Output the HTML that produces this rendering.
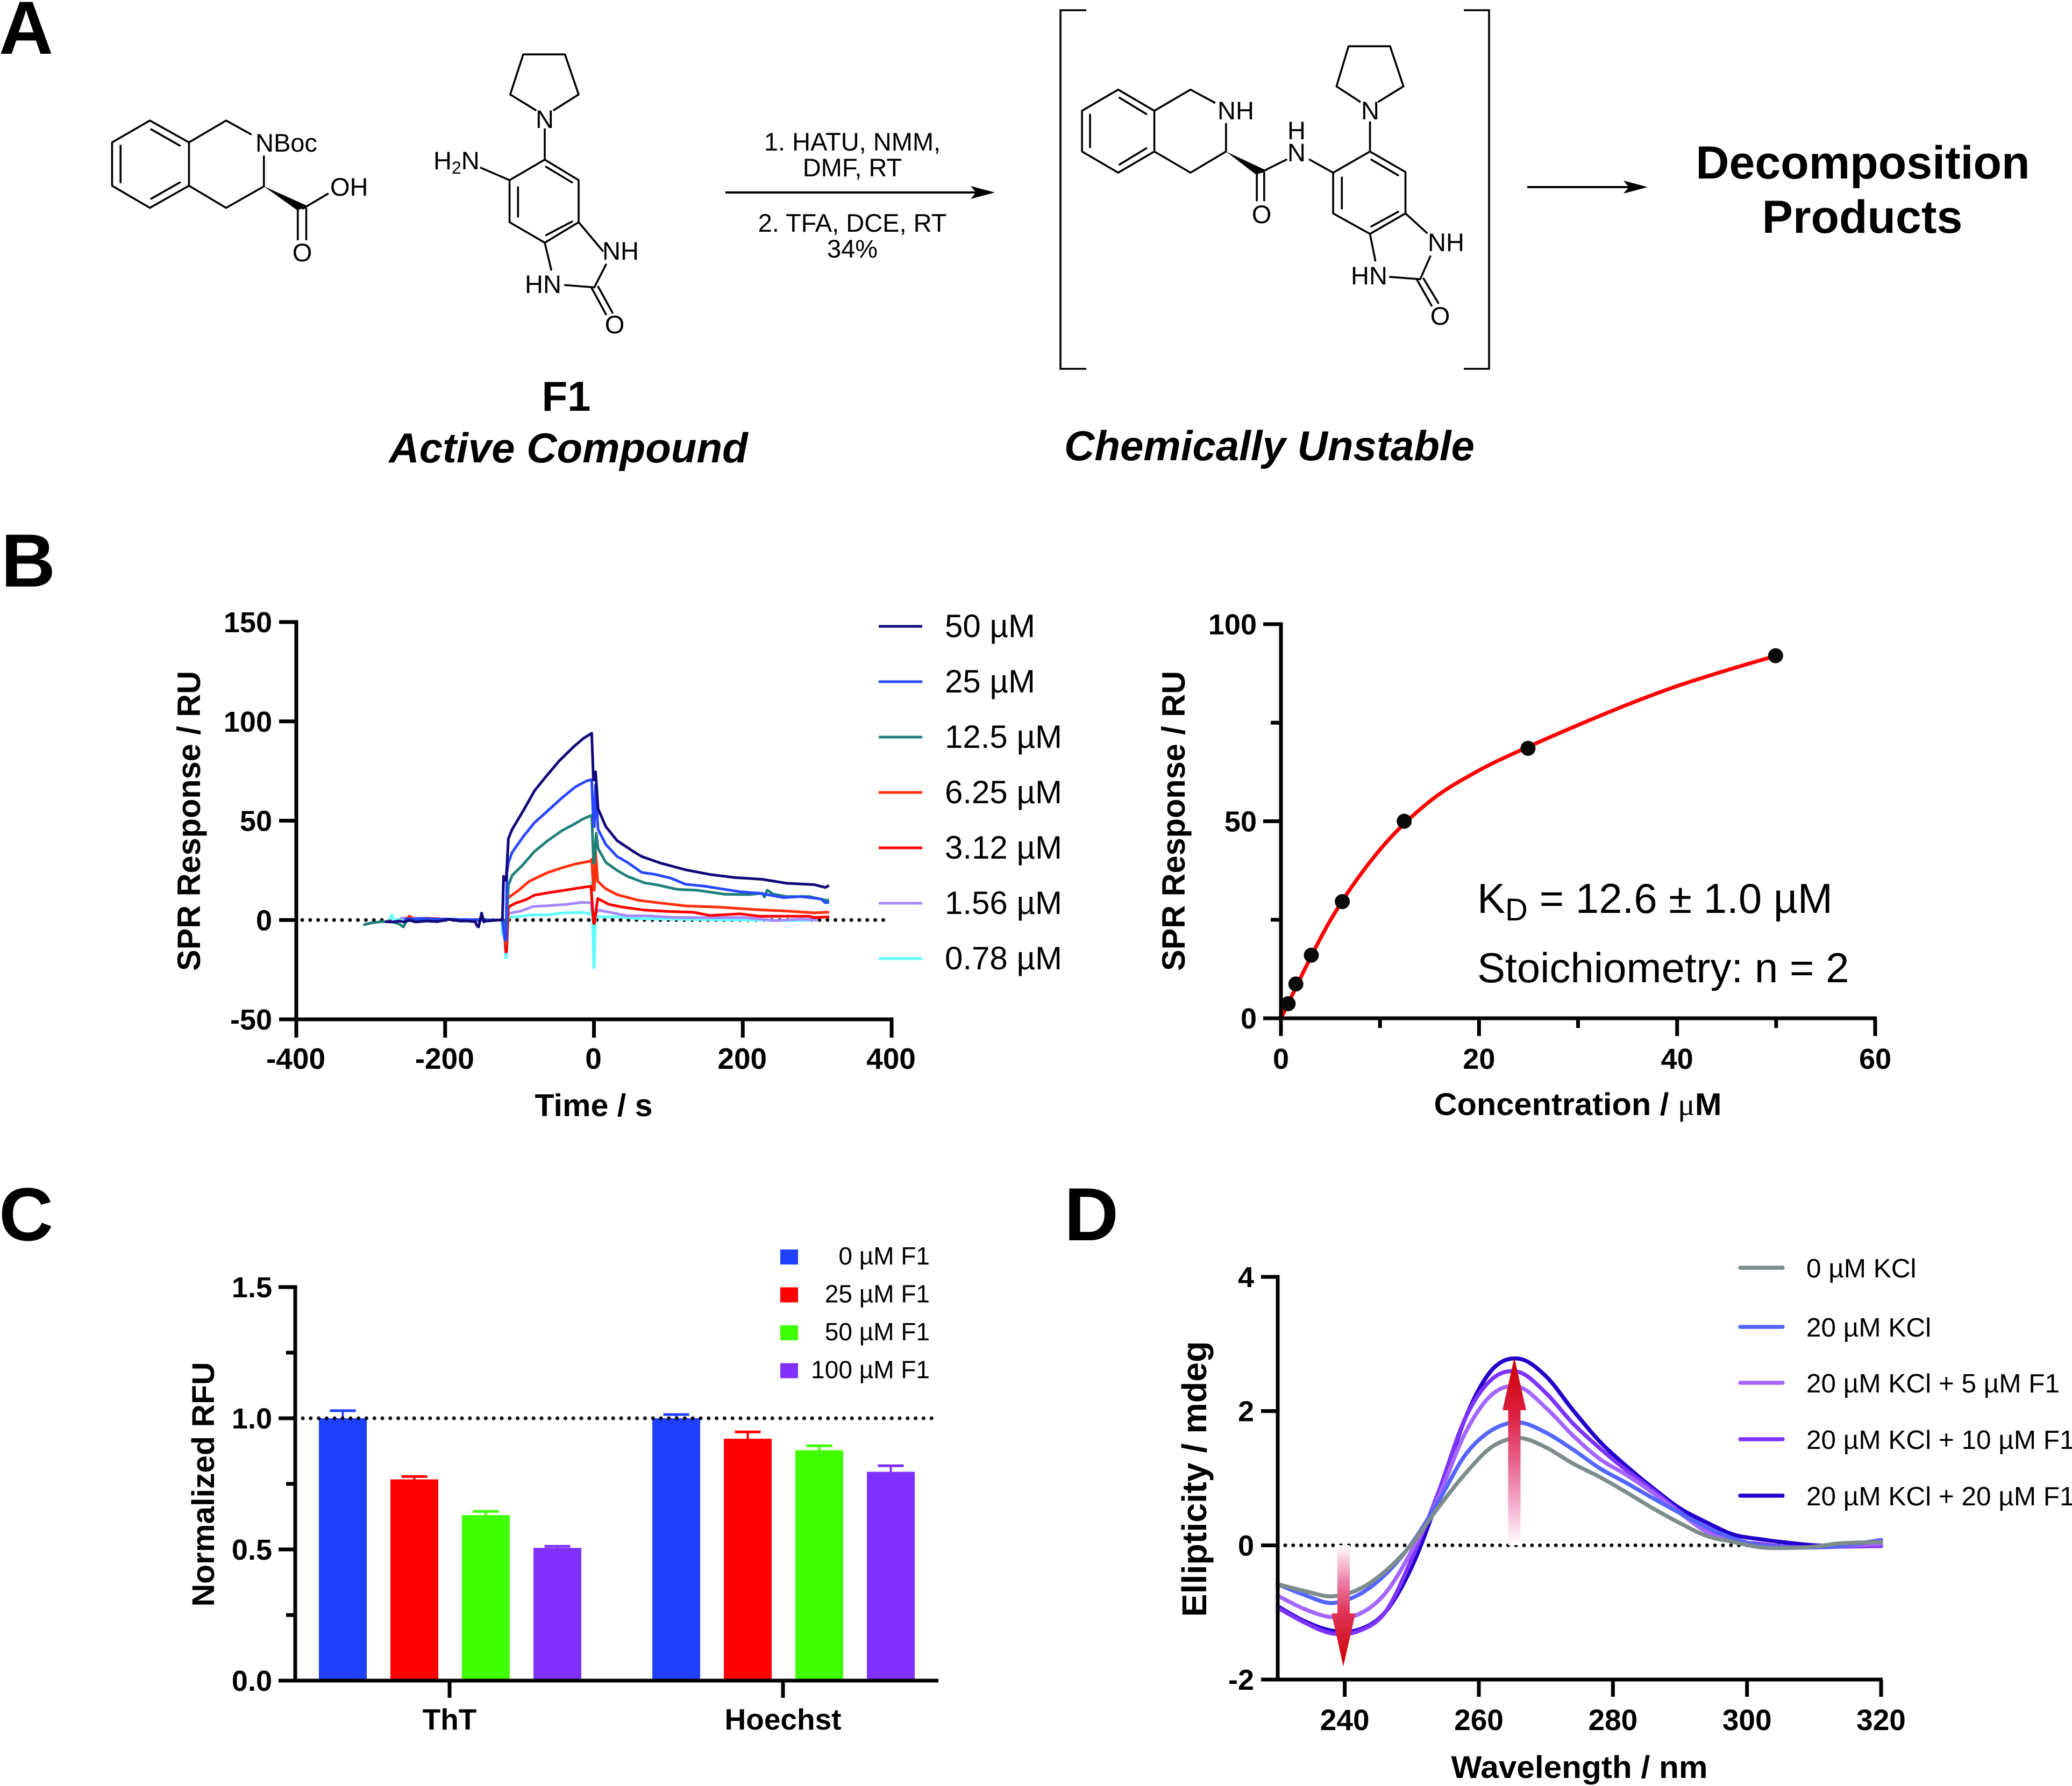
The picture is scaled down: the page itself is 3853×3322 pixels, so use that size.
<!DOCTYPE html>
<html lang="en">
<head>
<meta charset="utf-8">
<title>F1 compound: synthesis, SPR, fluorescence and CD data</title>
<style>
html,body{margin:0;padding:0;background:#fff;}
svg{display:block;}
text{font-family:"Liberation Sans",sans-serif;fill:#000;}
.bond line,.bond polyline{stroke:#000;stroke-width:3.6;fill:none;vector-effect:non-scaling-stroke;stroke-linecap:round;stroke-linejoin:round;}
.atom{font-size:47px;}
.mid{text-anchor:middle;}
.ttl{font-size:58px;font-weight:700;text-anchor:middle;}
.ttl60{font-size:60px;}
.panel{font-size:140px;font-weight:700;}
</style>
</head>
<body>
<svg id="fig" xmlns="http://www.w3.org/2000/svg" width="3853" height="3322" viewBox="0 0 3853 3322">
<defs>
<linearGradient id="gradUp" gradientUnits="userSpaceOnUse" x1="0" y1="2525" x2="0" y2="2874">
<stop offset="0" stop-color="#cc0000"/><stop offset="0.3" stop-color="#dc2040"/><stop offset="0.55" stop-color="#e8608c"/><stop offset="0.8" stop-color="#f4b4d0"/><stop offset="1" stop-color="#ffffff"/>
</linearGradient>
<linearGradient id="gradDown" gradientUnits="userSpaceOnUse" x1="0" y1="3099" x2="0" y2="2874">
<stop offset="0" stop-color="#cc0000"/><stop offset="0.45" stop-color="#e03458"/><stop offset="0.7" stop-color="#ec80a8"/><stop offset="1" stop-color="#ffffff"/>
</linearGradient>
</defs>
<rect x="0" y="0" width="3853" height="3322" fill="#fff"/>

<!-- Panel letters -->
<text class="panel" x="-2" y="100">A</text>
<text class="panel" x="2" y="1091">B</text>
<text class="panel" x="-2" y="2307">C</text>
<text class="panel" x="1979" y="2307">D</text>

<!-- Panel A: starting acid -->
<g class="bond" transform="scale(1.2117,0.606)">
<polyline points="230,370 290,437 290,570 230,638 172,570 172,437 230,370"/>
<line x1="232" y1="397" x2="276" y2="447"/><line x1="185" y1="447" x2="185" y2="560"/><line x1="232" y1="610" x2="276" y2="560"/>
<polyline points="290,437 347,370 385,412"/>
<polyline points="405,480 405,572 347,638 290,570"/>
<polygon points="405,572 456,645 473,633" fill="#000"/>
<line x1="465" y1="640" x2="503" y2="595"/>
<line x1="457" y1="640" x2="457" y2="735"/><line x1="470" y1="640" x2="470" y2="735"/>
</g>
<text class="atom" x="475" y="282">NBoc</text>
<text class="atom" x="614" y="364">OH</text>
<text class="atom mid" x="562" y="486">O</text>

<!-- Panel A: F1 -->
<g class="bond" transform="scale(1.2117,0.606)">
<polyline points="822,338 783,290 803,167 867,167 888,290 850,338"/>
<line x1="836" y1="397" x2="836" y2="490"/>
<polyline points="836,490 888,553 888,682 836,745 782,682 782,553 836,490"/>
<line x1="838" y1="512" x2="878" y2="560"/><line x1="795" y1="575" x2="795" y2="665"/><line x1="878" y1="680" x2="838" y2="722"/>
<line x1="738" y1="515" x2="782" y2="553"/>
<line x1="888" y1="682" x2="925" y2="770"/>
<line x1="930" y1="812" x2="912" y2="882"/>
<line x1="836" y1="745" x2="846" y2="828"/>
<line x1="867" y1="875" x2="912" y2="882"/>
<line x1="908" y1="884" x2="930" y2="965"/><line x1="918" y1="880" x2="940" y2="960"/>
</g>
<text class="atom mid" x="1013" y="238">N</text>
<text class="atom" x="806" y="315">H<tspan font-size="32" dy="8">2</tspan><tspan dy="-8">N</tspan></text>
<text class="atom" x="1120" y="483">NH</text>
<text class="atom" x="976" y="545">HN</text>
<text class="atom mid" x="1143" y="620">O</text>
<text class="mid" x="1053" y="764" font-size="78" font-weight="700">F1</text>
<text class="mid" x="1057" y="860" font-size="78" font-weight="700" font-style="italic">Active Compound</text>

<!-- Panel A: reaction -->
<text class="atom mid" x="1585" y="280">1. HATU, NMM,</text>
<text class="atom mid" x="1585" y="328">DMF, RT</text>
<text class="atom mid" x="1585" y="431">2. TFA, DCE, RT</text>
<text class="atom mid" x="1585" y="479">34%</text>
<g>
<line x1="1349" y1="358" x2="1815" y2="358" stroke="#000" stroke-width="4"/>
<polygon points="1850,358 1805,346 1815,358 1805,370" fill="#000"/>
</g>

<!-- Panel A: intermediate -->
<g><polyline points="2020,19 1972,19 1972,686 2020,686" fill="none" stroke="#000" stroke-width="3.6"/></g>
<g><polyline points="2722,19 2769,19 2769,686 2722,686" fill="none" stroke="#000" stroke-width="3.6"/></g>
<g class="bond" transform="translate(1900,0) scale(1.2453,0.606)">
<polyline points="144,275 198,340 198,465 144,530 90,465 90,340 144,275"/>
<line x1="146" y1="300" x2="186" y2="350"/><line x1="102" y1="352" x2="102" y2="452"/><line x1="146" y1="505" x2="186" y2="455"/>
<polyline points="198,340 252,275 288,315"/>
<polyline points="305,380 305,465 252,530 198,465"/>
<polygon points="305,465 350,536 366,524" fill="#000"/>
<line x1="351" y1="530" x2="351" y2="615"/><line x1="362" y1="530" x2="362" y2="615"/>
<line x1="358" y1="528" x2="395" y2="490"/>
<line x1="430" y1="490" x2="465" y2="530"/>
<polyline points="520,465 573,528 573,655 520,718 465,655 465,530 520,465"/>
<line x1="522" y1="490" x2="562" y2="538"/><line x1="478" y1="545" x2="478" y2="640"/><line x1="562" y1="650" x2="522" y2="695"/>
<line x1="520" y1="465" x2="520" y2="375"/>
<polyline points="505,312 470,265 488,142 550,142 570,265 533,312"/>
<line x1="573" y1="655" x2="605" y2="715"/>
<line x1="610" y1="787" x2="595" y2="857"/>
<line x1="520" y1="718" x2="528" y2="800"/>
<line x1="550" y1="850" x2="595" y2="857"/>
<line x1="590" y1="858" x2="612" y2="938"/><line x1="600" y1="855" x2="622" y2="930"/>
</g>
<text class="atom" x="2264" y="222">NH</text>
<text class="atom mid" x="2346" y="415">O</text>
<text class="atom mid" x="2411" y="259">H</text>
<text class="atom mid" x="2411" y="300">N</text>
<text class="atom mid" x="2548" y="222">N</text>
<text class="atom" x="2655" y="467">NH</text>
<text class="atom" x="2512" y="529">HN</text>
<text class="atom mid" x="2678" y="604">O</text>
<text x="1979" y="856" font-size="78" font-weight="700" font-style="italic">Chemically Unstable</text>
<g>
<line x1="2840" y1="348" x2="3030" y2="348" stroke="#000" stroke-width="4"/>
<polygon points="3064,348 3019,336 3029,348 3019,360" fill="#000"/>
</g>
<text class="mid" x="3464" y="332" font-size="86" font-weight="700">Decomposition</text>
<text class="mid" x="3463" y="433" font-size="86" font-weight="700">Products</text>

<!-- Chart layers filled by script -->
<g id="chartB1"></g>
<text class="ttl ttl60" transform="translate(372,1527) rotate(-90)" textLength="558" lengthAdjust="spacingAndGlyphs">SPR Response / RU</text>
<text class="ttl" x="1104" y="2076" textLength="219" lengthAdjust="spacingAndGlyphs">Time / s</text>

<g id="chartB2"></g>
<text class="ttl ttl60" transform="translate(2203,1527) rotate(-90)" textLength="558" lengthAdjust="spacingAndGlyphs">SPR Response / RU</text>
<text class="ttl" x="2934" y="2074" textLength="535" lengthAdjust="spacingAndGlyphs">Concentration / <tspan font-family="Liberation Serif" font-weight="400">μ</tspan>M</text>
<text x="2747" y="1698" font-size="78">K<tspan font-size="58" dy="14">D</tspan><tspan dy="-14"> = 12.6 ± 1.0 µM</tspan></text>
<text x="2747" y="1827" font-size="78">Stoichiometry: n = 2</text>

<g id="chartC"></g>
<text class="ttl" transform="translate(398,2761) rotate(-90)" textLength="455" lengthAdjust="spacingAndGlyphs">Normalized RFU</text>

<g id="chartD"></g>
<text class="ttl" style="font-size:64px" transform="translate(2243,2751) rotate(-90)" textLength="513" lengthAdjust="spacingAndGlyphs">Ellipticity / mdeg</text>
<text class="ttl" x="2937" y="3307" textLength="477" lengthAdjust="spacingAndGlyphs">Wavelength / nm</text>
</svg>

<script>
/* ---------- Panel B left: SPR sensorgrams ---------- */
const sprXTicks = [-400, -200, 0, 200, 400];
const sprYTicks = [-50, 0, 50, 100, 150];
const sprLabels = ['50 µM', '25 µM', '12.5 µM', '6.25 µM', '3.12 µM', '1.56 µM', '0.78 µM'];
const sprColors = ['#12087a', '#2a48ff', '#1f8078', '#ff3010', '#ff0000', '#a688ff', '#60ffff'];

const t50 = [-281,-270,-262,-255,-248,-240,-225,-210,-195,-180,-170,-160,-157,-155,-153,-151,-148,-145,-135,-125,-123,-121.5,-120,-118,-115,-110,-95,-80,-65,-47,-28,-14,-3,-0.7,1,2.2,5.5,16,31,53,64,89,123,156,189,226,259,296,311,316];
const v50 = [-0.8,-1,-0.5,-1,0,-1,-0.5,-0.8,0.3,-0.5,-0.5,-0.8,-3,-3.5,0,3.5,-1,-0.5,-0.2,0,0,22,20,20,41,45.6,55,65,72,80,87,91.5,94,70.6,70.7,74.6,56,47,40,34.5,32,28.7,25.3,22.9,21.4,20.5,18.5,17.8,16.4,17.4];
const t25 = [-255,-240,-225,-210,-195,-180,-160,-145,-130,-123,-120,-118,-117,-115,-110,-95,-80,-65,-43,-25,-10,-3,-0.5,0.5,2,5.5,16,31,45,64,82,104,123,149,171,197,222,255,278,305,311,316];
const v25 = [0.5,0.5,0.8,0.3,0.5,0.2,0.2,0,0,0,-10,-10,24,29,34,42,49,54,61.5,67,70,70.7,47,47,68,45.6,38,32,29,24,23,21,18,17,15.7,14.2,13.5,11.3,11.8,10.6,8.7,8.9];
const t125 = [-310,-300,-285,-270,-262,-256,-252,-240,-225,-200,-170,-145,-125,-121,-118,-115,-110,-95,-80,-62,-43,-28,-14,-3,-0.5,0.5,3,5.5,16,31,45,68,86,112,138,175,208,226,229,233,241,259,289,311,316];
const v125 = [-2.5,-1.5,-0.8,-1,-2,-3.5,-0.5,0,0.5,0.3,0,0,0,0,-6,17.6,22.4,28,34.5,40,45,48,51,52.7,28.7,28.7,43.7,36,29,25,22,18.7,17.6,15.4,15,13,12.8,13.5,11.6,15,13,11.8,11.8,10,10];
const t625 = [-252,-248,-240,-225,-210,-195,-170,-145,-125,-121,-118,-116,-115,-102,-87,-62,-43,-25,-4,-3,-0.5,0.5,2,5,16,31,60,93,123,167,215,259,296,316];
const v625 = [0.5,2,0,1,0.5,0.3,0,0,0,0,-12,10,11.3,14.7,19.5,23.9,26.3,28.2,29.7,30.6,15,15,35,19.5,15.7,12.8,9.9,8.4,7.1,6.5,5.3,4.5,3.6,3.9];
const t312 = [-240,-225,-210,-195,-170,-145,-125,-121,-118.5,-117.5,-115,-106,-91,-80,-62,-39,-21,-4,-0.5,0.5,5,20,38,68,101,134,156,197,222,259,289,296,316];
const v312 = [0.3,0.8,0.6,0.3,0,0,0,0,-16,-16,6.5,8.4,10.3,12.5,13.7,15,16.1,17,-1.7,-1.7,10.8,7.9,6.5,5,4.3,3.9,2.3,3.1,1.9,1.9,1.9,1.2,1.6];
const t156 = [-260,-240,-220,-195,-170,-145,-125,-121,-118,-115,-98,-82,-62,-36,-17,-4,-0.5,0.5,5,20,45,71,104,134,204,244,278,300];
const v156 = [1,1,0.8,0.5,0.2,0,0,0,-8,3.3,4.5,6.8,7.2,7.9,8.9,8.7,1,1,5,4,2.1,2.1,1.4,1.2,1.2,-0.3,0.4,0];
const t078 = [-275,-272,-268,-250,-230,-200,-170,-150,-135,-124,-123,-121,-118.5,-117.5,-115,-98,-84,-62,-39,-14,-4,-3,-0.3,0.3,2,5.5,31,60,149,222,259,300];
const v078 = [0,2.5,0,1,0.5,0.5,0,0,0,0,-7,0,-19,-19,1.4,1.9,2.6,2.6,3.6,3.8,2.9,19,-24,-24,2,1.6,1.6,0.7,0.2,0,-0.3,0];

/* ---------- Panel B right: binding isotherm ---------- */
const bindXTicks = [0, 20, 40, 60];
const bindXMinor = [10, 30, 50];
const bindYTicks = [0, 50, 100];
const bindYMinor = [25, 75];
const bindConc = [0.78, 1.56, 3.12, 6.25, 12.5, 25, 50];
const bindResp = [3.7, 8.7, 16, 29.6, 50, 68.5, 92];
const fitConc = [0, 5, 10, 15, 20, 25, 30, 35, 40, 45, 50];
const fitResp = [0, 24.9, 42.8, 55, 62.9, 68.9, 74.4, 79.6, 84.3, 88.3, 92];

/* ---------- Panel C: normalized RFU bars ---------- */
const rfuYTicks = [0, 0.5, 1, 1.5];
const rfuYMinor = [0.25, 0.75, 1.25];
const rfuGroups = ['ThT', 'Hoechst'];
const rfuSeries = ['0 µM F1', '25 µM F1', '50 µM F1', '100 µM F1'];
const rfuColors = ['#2040ff', '#ff0000', '#40ff00', '#8030ff'];
const rfuTht = [1.0, 0.767, 0.631, 0.506];
const rfuHoechst = [1.0, 0.922, 0.878, 0.796];
const errTht = [0.029, 0.011, 0.014, 0.006];
const errHoechst = [0.014, 0.026, 0.017, 0.023];

/* ---------- Panel D: CD spectra ---------- */
const cdXTicks = [240, 260, 280, 300, 320];
const cdYTicks = [-2, 0, 2, 4];
const cdWave = [230,234,238,242,246,250,254,258,262,266,270,274,278,282,286,290,294,298,302,306,310,314,320];
const cd0KCl = [-0.58,-0.68,-0.76,-0.66,-0.39,0.02,0.57,1.07,1.47,1.6,1.46,1.22,1.02,0.79,0.55,0.33,0.14,0.05,-0.03,-0.04,-0.02,0.03,0.05];
const cd20KCl = [-0.58,-0.74,-0.86,-0.74,-0.44,0.03,0.66,1.35,1.72,1.83,1.68,1.43,1.15,0.93,0.7,0.48,0.27,0.1,0,-0.03,-0.03,-0.01,0.08];
const cd5F1 = [-0.75,-0.95,-1.07,-1.03,-0.72,-0.08,0.72,1.68,2.25,2.36,2.05,1.64,1.29,1.05,0.78,0.48,0.2,0.05,0,-0.03,-0.03,-0.01,0.02];
const cd10F1 = [-0.93,-1.15,-1.31,-1.28,-1,-0.2,0.8,1.9,2.48,2.58,2.27,1.82,1.45,1.12,0.82,0.5,0.22,0.07,0.02,-0.02,-0.03,-0.02,-0.01];
const cd20F1 = [-0.91,-1.13,-1.27,-1.26,-1,-0.32,0.72,1.9,2.62,2.78,2.52,2.02,1.55,1.18,0.85,0.55,0.34,0.16,0.09,0.04,0,-0.01,-0.01];
const cdLabels = ['0 µM KCl', '20 µM KCl', '20 µM KCl + 5 µM F1', '20 µM KCl + 10 µM F1', '20 µM KCl + 20 µM F1'];
const cdColors = ['#7f8c8c', '#5566ff', '#a566ff', '#7f33ff', '#2200cc'];

/* ---------- helpers ---------- */
const NS = 'http://www.w3.org/2000/svg';
function make(tag, attrs, parent) {
  const e = document.createElementNS(NS, tag);
  for (const k in attrs) e.setAttribute(k, attrs[k]);
  parent.appendChild(e);
  return e;
}
function scale(d0, d1, r0, r1) { return v => r0 + (v - d0) * (r1 - r0) / (d1 - d0); }
function seg(parent, x1, y1, x2, y2, w, color) {
  return make('line', {x1: x1, y1: y1, x2: x2, y2: y2, stroke: color || '#000', 'stroke-width': w, 'stroke-linecap': 'butt'}, parent);
}
function label(parent, x, y, str, size, weight, anchor) {
  const e = make('text', {x: x, y: y, 'font-size': size, 'font-weight': weight, 'text-anchor': anchor}, parent);
  e.textContent = str;
  return e;
}
function dotted(parent, x1, y, x2) {
  return make('line', {x1: x1, y1: y, x2: x2, y2: y, stroke: '#000', 'stroke-width': 7, 'stroke-linecap': 'round', 'stroke-dasharray': '0 14.8'}, parent);
}
function linePath(xs, ys, fx, fy) {
  return xs.map((v, i) => (i ? 'L' : 'M') + fx(v).toFixed(1) + ' ' + fy(ys[i]).toFixed(1)).join(' ');
}
function smoothPath(xs, ys, fx, fy) {
  const p = xs.map((v, i) => [fx(v), fy(ys[i])]);
  let d = 'M' + p[0][0].toFixed(1) + ' ' + p[0][1].toFixed(1);
  for (let i = 0; i < p.length - 1; i++) {
    const a = p[Math.max(i - 1, 0)], b = p[i], c = p[i + 1], e = p[Math.min(i + 2, p.length - 1)];
    d += ' C' + (b[0] + (c[0] - a[0]) / 6).toFixed(1) + ' ' + (b[1] + (c[1] - a[1]) / 6).toFixed(1) + ' ' +
         (c[0] - (e[0] - b[0]) / 6).toFixed(1) + ' ' + (c[1] - (e[1] - b[1]) / 6).toFixed(1) + ' ' +
         c[0].toFixed(1) + ' ' + c[1].toFixed(1);
  }
  return d;
}

/* ---------- draw Panel B left ---------- */
(function () {
  const g = document.getElementById('chartB1');
  const x = scale(-400, 400, 551, 1658);
  const y = scale(-50, 150, 1896, 1157);

  const zero = dotted(g, 562, y(0), 1650);
  
  

  const ts = [t50, t25, t125, t625, t312, t156, t078];
  const vs = [v50, v25, v125, v625, v312, v156, v078];
  for (let i = 6; i >= 0; i--) {
    const p = make('path', {d: linePath(ts[i], vs[i], x, y), fill: 'none', stroke: sprColors[i], 'stroke-width': 5, 'stroke-linejoin': 'round'}, g);
    
    
  }

  const ax = seg(g, x(-400) - 3.5, y(-50), x(400) + 3.5, y(-50), 7);
  
  
  const ay = seg(g, x(-400), y(150) - 3.5, x(-400), y(-50) + 3.5, 7);
  
  

  sprXTicks.forEach(v => {
    const t = seg(g, x(v), y(-50), x(v), y(-50) + 34, 7);
    
    
    const l = label(g, x(v) - 1, 1988, String(v), 55, 700, 'middle');
    
    
  });
  sprYTicks.forEach(v => {
    const t = seg(g, x(-400) - 32, y(v), x(-400), y(v), 7);
    
    
    const l = label(g, 506, y(v) + 19, String(v), 54, 700, 'end');
    
    
  });

  sprLabels.forEach((s, i) => {
    const ly = 1165 + i * 103;
    const m = seg(g, 1634, ly, 1715, ly, 5, sprColors[i]);
    
    
    const l = label(g, 1757, ly + 20, s, 60, 400, 'start');
    
    
  });
})();

/* ---------- draw Panel B right ---------- */
(function () {
  const g = document.getElementById('chartB2');
  const x = scale(0, 60, 2382, 3487);
  const y = scale(0, 100, 1894, 1161);

  const fit = make('path', {d: smoothPath(fitConc, fitResp, x, y), fill: 'none', stroke: '#ff0000', 'stroke-width': 7}, g);
  
  

  const ax = seg(g, x(0) - 33, y(0), x(60) + 3, y(0), 7);
  
  
  const ay = seg(g, x(0), y(100) - 3.5, x(0), y(0) + 33, 7);
  
  

  bindXTicks.forEach(v => {
    const t = seg(g, x(v), y(0), x(v), y(0) + 33, 7);
    
    
    const l = label(g, x(v), 1988, String(v), 54, 700, 'middle');
    
    
  });
  bindXMinor.forEach(v => {
    const t = seg(g, x(v), y(0), x(v), y(0) + 18, 7);
    
    
  });
  bindYTicks.forEach(v => {
    const t = seg(g, x(0) - 33, y(v), x(0), y(v), 7);
    
    
    const l = label(g, 2337, y(v) + 19, String(v), 54, 700, 'end');
    
    
  });
  bindYMinor.forEach(v => {
    const t = seg(g, x(0) - 19, y(v), x(0), y(v), 7);
    
    
  });

  bindConc.forEach((c, i) => {
    const d = make('circle', {cx: x(c) - 1, cy: y(bindResp[i]), r: 14, fill: '#0a0a0a'}, g);
    
    
  });
})();

/* ---------- draw Panel C ---------- */
(function () {
  const g = document.getElementById('chartC');
  const y = scale(0, 1.5, 3126, 2394);
  const groupX = i => 837 + i * 620;
  const barX = (gi, si) => groupX(gi) + (si - 1.5) * 133;
  const vals = [rfuTht, rfuHoechst];
  const errs = [errTht, errHoechst];

  vals.forEach((arr, gi) => {
    arr.forEach((v, si) => {
      const cx = barX(gi, si);
      const top = y(v + errs[gi][si]);
      const stem = seg(g, cx, y(v), cx, top, 4, rfuColors[si]);
      
      
      const cap = seg(g, cx - 24, top, cx + 24, top, 5, rfuColors[si]);
      
      
      const b = make('rect', {x: cx - 44.5, y: y(v), width: 89, height: y(0) - y(v), fill: rfuColors[si]}, g);
      
      
    });
  });

  const ref = dotted(g, 563, y(1), 1742);
  
  

  const ax = seg(g, 518, y(0), 1745, y(0), 7);
  
  
  const ay = seg(g, 549, y(1.5) - 3.5, 549, y(0), 7);
  
  

  rfuYTicks.forEach(v => {
    const t = seg(g, 518, y(v), 549, y(v), 7);
    
    
    const l = label(g, 506, y(v) + 19, v.toFixed(1), 54, 700, 'end');
    
    
  });
  rfuYMinor.forEach(v => {
    const t = seg(g, 532, y(v), 549, y(v), 7);
    
    
  });
  rfuGroups.forEach((s, i) => {
    const t = seg(g, groupX(i) - 1, y(0), groupX(i) - 1, y(0) + 32, 7);
    
    
    const l = label(g, groupX(i) - 1, 3217, s, 55, 700, 'middle');
    
    
  });
  rfuSeries.forEach((s, i) => {
    const ly = 2338 + i * 70.5;
    const r = make('rect', {x: 1451, y: ly - 14, width: 33, height: 28, fill: rfuColors[i]}, g);
    
    
    const l = label(g, 1729, ly + 14, s, 46, 400, 'end');
    
    
  });
})();

/* ---------- draw Panel D ---------- */
(function () {
  const g = document.getElementById('chartD');
  const x = scale(230, 320, 2376, 3498);
  const y = scale(-2, 4, 3124, 2375);

  const zero = dotted(g, 2390, y(0), 3490);
  
  

  const series = [cd0KCl, cd20KCl, cd5F1, cd10F1, cd20F1];
  for (let i = 4; i >= 0; i--) {
    const p = make('path', {d: smoothPath(cdWave, series[i], x, y), fill: 'none', stroke: cdColors[i], 'stroke-width': 7.5, 'stroke-linecap': 'round', 'stroke-linejoin': 'round'}, g);
    
    
  }

  const up = make('polygon', {points: '2804.5,2874 2804.5,2623 2794,2623 2816,2525 2838,2623 2827.5,2623 2827.5,2874', fill: 'url(#gradUp)'}, g);
  
  
  const down = make('polygon', {points: '2487,2874 2510,2874 2510,3001 2520.5,3001 2498,3099.5 2476,3001 2487,3001', fill: 'url(#gradDown)'}, g);
  
  

  const ax = seg(g, 2345, y(-2), 3501, y(-2), 7);
  
  
  const ay = seg(g, 2376, y(4) - 3.5, 2376, y(-2), 7);
  
  

  cdXTicks.forEach(v => {
    const t = seg(g, x(v), y(-2), x(v), y(-2) + 32, 7);
    
    
    const l = label(g, x(v), 3218, String(v), 55, 700, 'middle');
    
    
  });
  cdYTicks.forEach(v => {
    const t = seg(g, 2345, y(v), 2376, y(v), 7);
    
    
    const l = label(g, 2332, y(v) + 19, String(v), 54, 700, 'end');
    
    
  });

  const legendRows = [2358, 2468, 2572, 2677, 2782];
  cdLabels.forEach((s, i) => {
    const m = make('line', {x1: 3236, y1: legendRows[i], x2: 3315, y2: legendRows[i], stroke: cdColors[i], 'stroke-width': 7.5, 'stroke-linecap': 'round'}, g);
    
    
    const l = label(g, 3359, legendRows[i] + 18, s, 49.5, 400, 'start');
    
    
  });
})();
</script>
</body>
</html>
